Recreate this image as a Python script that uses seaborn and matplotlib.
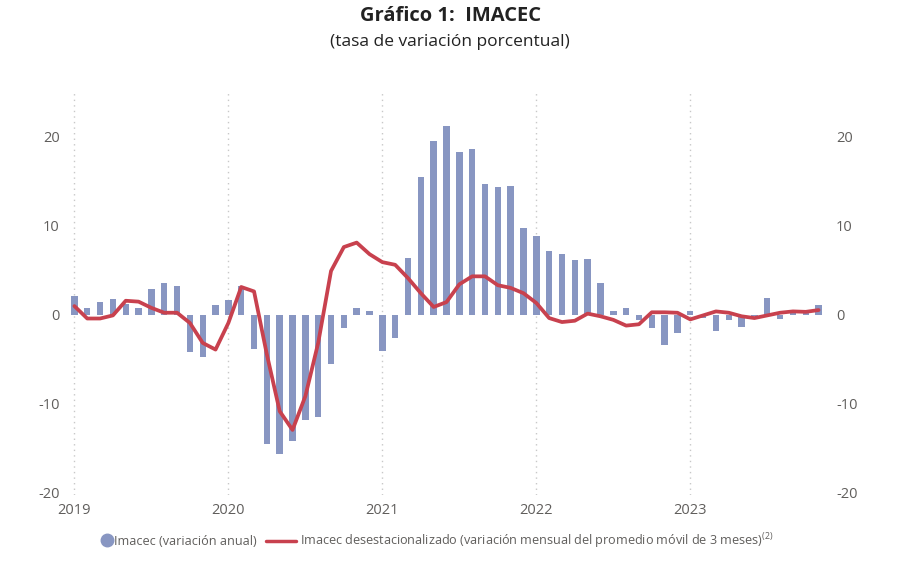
import numpy as np
import pandas as pd
import matplotlib
matplotlib.use('Agg')
import matplotlib.pyplot as plt
from matplotlib.lines import Line2D
import seaborn as sns

# Data: Jan 2019 - Nov 2023, monthly
anual = [2.1, 0.75, 1.4, 1.8, 1.2, 0.75, 2.9, 3.6, 3.2, -4.25, -4.8, 1.1,
         1.6, 3.2, -3.9, -14.6, -15.7, -14.2, -11.9, -11.5, -5.6, -1.5, 0.75, 0.4,
         -4.1, -2.7, 6.4, 15.5, 19.6, 21.2, 18.3, 18.7, 14.7, 14.4, 14.5, 9.7,
         8.9, 7.1, 6.8, 6.1, 6.2, 3.5, 0.35, 0.75, -0.65, -1.5, -3.4, -2.1,
         0.35, -0.4, -1.9, -0.6, -1.4, -0.2, 1.9, -0.5, 0.3, 0.2, 1.1]
desest = [0.95, -0.45, -0.45, -0.1, 1.55, 1.45, 0.75, 0.2, 0.2, -0.95, -3.2, -3.95,
          -0.95, 3.1, 2.6, -4.5, -10.9, -13.0, -9.2, -3.2, 4.9, 7.6, 8.1, 6.8,
          5.9, 5.6, 4.1, 2.4, 0.85, 1.4, 3.4, 4.3, 4.3, 3.3, 3.0, 2.4,
          1.3, -0.4, -0.85, -0.7, 0.1, -0.2, -0.6, -1.25, -1.1, 0.25, 0.25, 0.2,
          -0.55, -0.1, 0.35, 0.2, -0.2, -0.4, -0.1, 0.2, 0.35, 0.3, 0.5]
years = ['2019', '2020', '2021', '2022', '2023']

df = pd.DataFrame({'mes': np.arange(len(anual)), 'anual': anual, 'desest': desest})

bar_color = '#8896C2'
line_color = '#C8414E'
txt_color = '#605E5C'

sns.set_style('white')
plt.rcParams['font.family'] = ['Open Sans', 'DejaVu Sans']

fig = plt.figure(figsize=(9, 5.8), dpi=100)
ax = fig.add_axes([68 / 900, 1 - 494.7 / 580, (825 - 68) / 900, (494.7 - 92.6) / 580])

sns.barplot(data=df, x='mes', y='anual', color=bar_color, width=0.5,
            saturation=1, linewidth=0, ax=ax)
sns.lineplot(data=df, x='mes', y='desest', color=line_color, linewidth=2.7, ax=ax)

ax.set_xlim(-0.5, len(anual) - 0.5)
ax.set_ylim(-20.3, 25)
ax.set_xticks([0, 12, 24, 36, 48])
ax.set_xticklabels(years)
ax.set_yticks([-20, -10, 0, 10, 20])
ax.set_yticklabels(['-20', '-10', '0', '10', '20'])
ax.set_xlabel('')
ax.set_ylabel('')
for x in [0, 12, 24, 36, 48]:
    ax.axvline(x, color='#C8C8C8', linestyle=(0, (1, 3)), linewidth=1, zorder=0)
for s in ax.spines.values():
    s.set_visible(False)
ax.tick_params(axis='both', length=0, labelsize=10.5, colors=txt_color)
ax.tick_params(axis='x', pad=6)
ax.tick_params(axis='y', pad=6)

ax2 = ax.twinx()
ax2.set_ylim(ax.get_ylim())
ax2.set_yticks([-20, -10, 0, 10, 20])
ax2.set_yticklabels(['-20', '-10', '0', '10', '20'])
for s in ax2.spines.values():
    s.set_visible(False)
ax2.tick_params(axis='y', length=0, labelsize=10.5, colors=txt_color, pad=8)

fig.text(0.5, 0.972, 'Gráfico 1:  IMACEC', ha='center', va='center',
         fontsize=14.5, fontweight='bold', color='#222222')
fig.text(0.5, 0.928, '(tasa de variación porcentual)', ha='center', va='center',
         fontsize=12.5, color='#222222')

leg1 = fig.legend([Line2D([], [], marker='o', linestyle='none', color=bar_color, markersize=9)],
                  ['Imacec (variación anual)'], loc='center left',
                  bbox_to_anchor=(102 / 900, 0.067), frameon=False, fontsize=9.1,
                  handlelength=0.8, handletextpad=0.15, borderpad=0, borderaxespad=0)
leg2 = fig.legend([Line2D([], [], color=line_color, linewidth=2.5)],
                  ['Imacec desestacionalizado (variación mensual del promedio móvil de 3 meses)$^{\\mathregular{(2)}}$'],
                  loc='center left', bbox_to_anchor=(266 / 900, 0.067), frameon=False,
                  fontsize=9.1, handlelength=2.4, handletextpad=0.3, borderpad=0,
                  borderaxespad=0)
for leg in (leg1, leg2):
    for t in leg.get_texts():
        t.set_color(txt_color)

fig.savefig('out.png', dpi=100)
